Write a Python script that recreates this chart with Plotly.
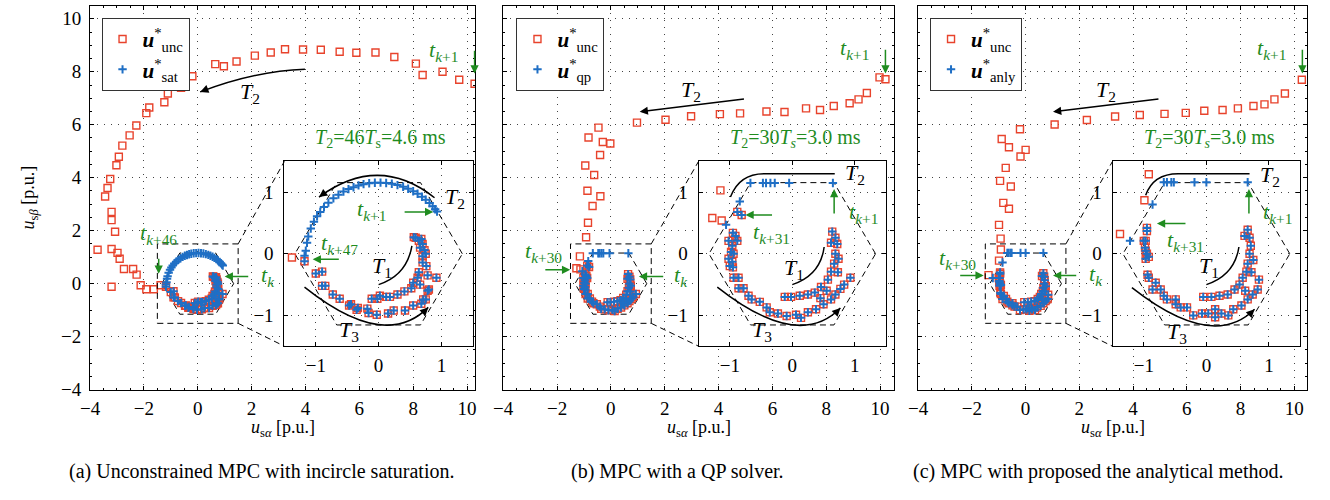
import plotly.graph_objects as go

# ---------------- data ----------------
# panel (a): unconstrained points only (red), saturated points only (blue), both
A_FAR_X = [10.28, 9.71, 9.09, 8.35, 8.10, 7.30, 6.60, 5.89, 5.27, 4.57, 3.91, 3.24, 2.71, 2.12, 1.44, 0.97,
           0.65, -0.20, -0.62, -1.11, -1.24, -1.80, -1.91, -2.28, -2.53, -2.80, -2.93, -3.02, -3.25, -3.35,
           -3.44, -3.20, -3.20, -3.07, -3.72, -3.20, -2.98, -2.90, -2.74, -2.40, -2.27, -2.12, -1.91, -1.63,
           -1.38, -3.20]
A_FAR_Y = [7.55, 7.70, 8.00, 7.88, 8.31, 8.56, 8.73, 8.72, 8.76, 8.83, 8.84, 8.85, 8.73, 8.61, 8.39, 8.21,
           8.29, 7.83, 7.40, 7.18, 6.85, 6.65, 6.44, 5.97, 5.60, 5.21, 4.79, 4.47, 3.95, 3.61,
           3.29, 2.71, 2.40, 1.96, 1.28, 1.31, 1.16, 0.94, 0.55, 0.55, 0.34, -0.06, -0.21, -0.21,
           -0.06, -0.12]
A_SAT_X = [-1.18, -1.16, -1.14, -1.12, -1.08, -1.03, -0.98, -0.93, -0.87, -0.80, -0.72, -0.64, -0.56, -0.48,
           -0.40, -0.32, -0.24, -0.15, -0.06, 0.03, 0.12, 0.21, 0.30, 0.39, 0.47, 0.55, 0.62, 0.69, 0.75,
           0.81, 0.86, 0.90, 0.93]
A_SAT_Y = [-0.03, 0.05, 0.18, 0.28, 0.41, 0.52, 0.61, 0.68, 0.76, 0.83, 0.90, 0.96, 1.01, 1.05,
           1.08, 1.11, 1.13, 1.145, 1.153, 1.155, 1.149, 1.136, 1.115, 1.087, 1.055, 1.016, 0.974, 0.926, 0.878,
           0.823, 0.771, 0.724, 0.685]
A_BOTH_X = [-1.18, -1.00, -0.90, -0.90, -0.85, -0.73, -0.62, -0.47, -0.44, -0.33, -0.35, -0.18, -0.16, -0.03,
            0.15, 0.24, 0.42, 0.55, 0.68, 0.71, 0.75, 0.80, 0.78, 0.92,
            -0.11, -0.02, 0.02, 0.12, 0.18, 0.30, 0.41, 0.52, 0.55, 0.62, 0.64, 0.70, 0.70, 0.73, 0.70,
            0.64, 0.59, 0.56, 0.68, 0.66, 0.76, 0.75, 0.78, 0.66]
A_BOTH_Y = [-0.12, -0.32, -0.29, -0.52, -0.52, -0.66, -0.73, -0.84, -0.82, -0.88, -0.91, -0.89, -0.96, -0.99,
            -0.97, -0.92, -0.92, -0.84, -0.81, -0.74, -0.74, -0.58, -0.60, -0.39,
            -0.73, -0.73, -0.68, -0.70, -0.70, -0.66, -0.61, -0.56, -0.47, -0.39, -0.30, -0.14, -0.04, 0.06, 0.16,
            0.21, 0.26, 0.27, 0.24, 0.10, -0.20, 0.00, -0.35, -0.50]

# panel (b)
B_FAR_X = [10.20, 9.98, 9.51, 9.20, 8.87, 8.28, 7.77, 7.25, 6.45, 5.78, 4.80, 4.05, 2.98, 2.03, 0.97,
           -0.46, -0.83, -0.30, -0.02, -0.40, -0.95, -0.62, -0.87, -0.39, -0.68, -0.85, -0.92, -1.15,
           -1.28, -1.13]
B_FAR_Y = [7.72, 7.79, 7.20, 6.96, 6.81, 6.71, 6.56, 6.62, 6.48, 6.50, 6.43, 6.40, 6.32, 6.19, 6.08,
           5.89, 5.52, 5.35, 5.29, 4.86, 4.46, 4.10, 3.51, 3.30, 2.93, 2.30, 1.75, 1.03,
           0.58, 0.54]
B_QP_X = [-0.67, -0.47, -0.42, -0.35, -0.28, -0.05, 0.65, -0.84, -1.06]
B_QP_Y = [1.15, 1.15, 1.15, 1.15, 1.15, 1.15, 1.15, 0.85, 0.47]
B_BOTH_X = [-0.88, -0.81, -0.95, -0.91, -1.02, -0.88, -0.96, -0.98, -0.94, -1.02, -0.96, -1.00, -0.95, -0.94,
            -0.86, -0.86, -0.78, -0.70, -0.65, -0.52, -0.41, -0.36, -0.23, -0.09, 0.06, 0.14, 0.25, 0.38,
            0.50, 0.62, 0.69, 0.77, 0.93, -0.12, -0.02, 0.12, 0.25, 0.36, 0.46, 0.57, 0.62, 0.67, 0.69,
            0.72, 0.69, 0.64, 0.62, 0.74, 0.73, 0.83, 0.55, 0.45]
B_BOTH_Y = [0.68, 0.63, 0.34, 0.29, 0.21, 0.21, 0.13, 0.03, 0.00, -0.08, -0.13, -0.20, -0.22, -0.39,
            -0.39, -0.56, -0.56, -0.68, -0.74, -0.78, -0.87, -0.95, -0.97, -1.01, -0.99, -1.04, -0.95, -0.90,
            -0.82, -0.74, -0.66, -0.57, -0.39, -0.70, -0.70, -0.68, -0.66, -0.63, -0.54, -0.42, -0.29, -0.16, 0.00,
            0.16, 0.26, 0.36, 0.18, -0.08, -0.30, -0.50, -0.60, -0.72]

# panel (c)
C_FAR_X = [10.28, 9.65, 9.26, 8.89, 8.48, 7.90, 7.33, 6.65, 5.96, 5.17, 4.25, 3.33, 2.28, 1.08, -0.21,
           -0.89, -0.62, 0.00, -0.19, -0.74, -0.95, -0.55, -0.83, -0.62, -0.99, -0.93, -0.92, -0.99, -1.38]
C_FAR_Y = [7.70, 7.18, 6.96, 6.77, 6.71, 6.62, 6.56, 6.53, 6.45, 6.41, 6.37, 6.31, 6.18, 6.01, 5.83,
           5.46, 5.15, 5.05, 4.80, 4.37, 3.88, 3.67, 3.05, 2.83, 2.22, 1.70, 1.29, 0.87, 0.32]
C_ANLY_X = [-0.68, -0.63, -0.56, -0.52, -0.19, 0.00, 0.66, -0.86, -1.22]
C_ANLY_Y = [1.16, 1.16, 1.16, 1.16, 1.16, 1.16, 1.16, 0.80, 0.21]
C_BOTH_X = [-0.95, -0.95, -0.97, -1.00, -0.97, -0.95, -0.92, -0.97, -0.94, -0.92, -0.81, -0.86, -0.73, -0.68,
            -0.63, -0.49, -0.49, -0.41, -0.31, -0.21, -0.07, 0.03, 0.14, 0.14, 0.24, 0.35, 0.43, 0.56, 0.66,
            0.74, 0.82, 0.84, -0.05, 0.08, 0.21, 0.34, 0.45, 0.53, 0.58, 0.64, 0.66, 0.69, 0.71, 0.69, 0.66,
            0.61, 0.75, 0.72, 0.62, -0.98]
C_BOTH_Y = [0.42, 0.37, 0.21, 0.21, 0.05, 0.00, -0.05, -0.08, -0.34, -0.39, -0.47, -0.58, -0.58, -0.68,
            -0.74, -0.74, -0.82, -0.87, -0.87, -1.00, -0.97, -0.97, -1.03, -0.90, -0.97, -1.00, -0.90, -0.84, -0.74,
            -0.66, -0.58, -0.42, -0.70, -0.70, -0.68, -0.66, -0.58, -0.50, -0.39, -0.29, -0.16, 0.00, 0.13, 0.26, 0.39,
            0.29, -0.10, -0.30, -0.60, 0.10]

# voltage hexagon
HEX_X = [1.333, 0.667, -0.667, -1.333, -0.667, 0.667, 1.333]
HEX_Y = [0.0, 1.155, 1.155, 0.0, -1.155, -1.155, 0.0]

X_TICKS = [-4, -2, 0, 2, 4, 6, 8, 10]
Y_TICKS = [-4, -2, 0, 2, 4, 6, 8, 10]
IN_TICKS = [-1, 0, 1]

LEG_A = ["<b><i>u</i></b><sup>*</sup><sub>unc</sub>", "<b><i>u</i></b><sup>*</sup><sub>sat</sub>"]
LEG_B = ["<b><i>u</i></b><sup>*</sup><sub>unc</sub>", "<b><i>u</i></b><sup>*</sup><sub>qp</sub>"]
LEG_C = ["<b><i>u</i></b><sup>*</sup><sub>unc</sub>", "<b><i>u</i></b><sup>*</sup><sub>anly</sub>"]
CAPTIONS = ["(a) Unconstrained MPC with incircle saturation.",
            "(b) MPC with a QP solver.",
            "(c) MPC with proposed the analytical method."]

# ---------------- layout geometry ----------------
W, H = 1330, 500
FONT = "Liberation Serif"
RED = "#e8432c"
BLUE = "#1f6fc5"
GREEN = "#1f8c1f"

MAIN_XPX = [(80.7, 469.0), (497.3, 891.7), (915.7, 1308.3)]
MAIN_XRANGE = [(-4, 10.3), (-4, 10.53), (-4, 10.49)]
MAIN_YPX = (6.0, 398.3)
MAIN_YRANGE = (-4, 10.49)
INSET_XPX = [(276.7, 466.7), (694.3, 883.3), (1111.7, 1301.0)]
INSET_YPX = (165.0, 354.0)
INSET_RANGE = (-1.5, 1.5)
CAP_XPX = [254, 673, 1097]


def pxx(p):
    return p / W


def pxy(p):
    return 1 - p / H


def tick_text(v):
    return [("\u2212" + str(-t)) if t < 0 else str(t) for t in v]


fig = go.Figure()
layout = dict(width=W, height=H, margin=dict(l=0, r=0, t=0, b=0),
              paper_bgcolor="white", plot_bgcolor="white", showlegend=True,
              font=dict(family=FONT, size=17, color="black"))

GRID = dict(showgrid=True, gridcolor="#444", griddash="1px,6px", gridwidth=1, zeroline=False,
            showline=True, linecolor="black", linewidth=1, mirror="ticks", ticks="inside",
            ticklen=4, tickcolor="black", tickfont=dict(family=FONT, size=19, color="black"))

panels = [
    (A_FAR_X, A_FAR_Y, A_SAT_X, A_SAT_Y, A_BOTH_X, A_BOTH_Y, LEG_A),
    (B_FAR_X, B_FAR_Y, B_QP_X, B_QP_Y, B_BOTH_X, B_BOTH_Y, LEG_B),
    (C_FAR_X, C_FAR_Y, C_ANLY_X, C_ANLY_Y, C_BOTH_X, C_BOTH_Y, LEG_C),
]
LEG_XPX = [92.3, 510.7, 927.7]

shapes = []
annotations = []


def main_to_px(i, x, y):
    x0p, x1p = MAIN_XPX[i]
    r0, r1 = MAIN_XRANGE[i]
    px = x0p + (x - r0) / (r1 - r0) * (x1p - x0p)
    py = MAIN_YPX[1] - (y - MAIN_YRANGE[0]) / (MAIN_YRANGE[1] - MAIN_YRANGE[0]) * (MAIN_YPX[1] - MAIN_YPX[0])
    return px, py


def text(x, y, t, xr, yr, color="black", size=22):
    annotations.append(dict(x=x, y=y, xref=xr, yref=yr, text=t, showarrow=False,
                            xanchor="center", yanchor="middle",
                            font=dict(family=FONT, size=size, color=color)))


def paper_text(px, py, t, size, angle=0):
    annotations.append(dict(x=pxx(px), y=pxy(py), xref="paper", yref="paper", text=t,
                            showarrow=False, xanchor="center", yanchor="middle", textangle=angle,
                            font=dict(family=FONT, size=size, color="black")))


def arrow(x0, y0, x1, y1, xr, yr, color="black", width=1.5):
    annotations.append(dict(x=x1, y=y1, ax=x0, ay=y0, xref=xr, yref=yr, axref=xr, ayref=yr,
                            text="", showarrow=True, arrowhead=2, arrowsize=1.1, arrowwidth=width,
                            arrowcolor=color, standoff=0, startstandoff=0))


def curve_arrow(path_pts, xr, yr, color="black"):
    d = ""
    for cmd, pts in path_pts:
        d += cmd + " " + " ".join(f"{a},{b}" for a, b in pts) + " "
    shapes.append(dict(type="path", path=d.strip(), xref=xr, yref=yr,
                       line=dict(color=color, width=1.5)))
    cmd, pts = path_pts[-1]
    ex, ey = pts[-1]
    cx, cy = pts[-2] if len(pts) > 1 else path_pts[-2][1][-1]
    tx, ty = ex + 0.12 * (cx - ex), ey + 0.12 * (cy - ey)
    arrow(tx, ty, ex, ey, xr, yr, color)


for i, (fx, fy, sx, sy, bx, by, leg) in enumerate(panels):
    k = i + 1
    ki = i + 4
    xa = "x" if k == 1 else f"x{k}"
    ya = "y" if k == 1 else f"y{k}"
    xi, yi = f"x{ki}", f"y{ki}"
    legname = "legend" if k == 1 else f"legend{k}"
    unc_x = fx + bx
    unc_y = fy + by
    con_x = sx + bx
    con_y = sy + by

    for (ax_x, ax_y, show) in [(xa, ya, True), (xi, yi, False)]:
        fig.add_trace(go.Scatter(x=HEX_X, y=HEX_Y, mode="lines", xaxis=ax_x, yaxis=ax_y,
                                 line=dict(color="black", width=1, dash="6px,4px"),
                                 showlegend=False, hoverinfo="skip"))
        fig.add_trace(go.Scatter(x=unc_x, y=unc_y, mode="markers", xaxis=ax_x, yaxis=ax_y,
                                 name=leg[0], legend=legname, showlegend=show,
                                 marker=dict(symbol="square-open", size=7, color=RED,
                                             line=dict(width=1.4, color=RED))))
        fig.add_trace(go.Scatter(x=con_x, y=con_y, mode="markers", xaxis=ax_x, yaxis=ax_y,
                                 name=leg[1], legend=legname, showlegend=show,
                                 marker=dict(symbol="cross-thin", size=6, color=BLUE,
                                             line=dict(width=2, color=BLUE))))

    xkey = "xaxis" if k == 1 else f"xaxis{k}"
    ykey = "yaxis" if k == 1 else f"yaxis{k}"
    layout[xkey] = dict(GRID, domain=[pxx(MAIN_XPX[i][0]), pxx(MAIN_XPX[i][1])], range=list(MAIN_XRANGE[i]),
                        anchor=ya, tickvals=X_TICKS, ticktext=tick_text(X_TICKS), ticklabelstandoff=2,
                        minor=dict(ticks="inside", ticklen=2, dtick=0.5, tickcolor="black", showgrid=False))
    layout[ykey] = dict(GRID, domain=[pxy(MAIN_YPX[1]), pxy(MAIN_YPX[0])], range=list(MAIN_YRANGE),
                        anchor=xa, tickvals=Y_TICKS, ticktext=tick_text(Y_TICKS), showticklabels=(k == 1),
                        ticklabelstandoff=4,
                        minor=dict(ticks="inside", ticklen=2, dtick=0.5, tickcolor="black", showgrid=False))
    layout[f"xaxis{ki}"] = dict(GRID, domain=[pxx(INSET_XPX[i][0]), pxx(INSET_XPX[i][1])],
                                range=list(INSET_RANGE), anchor=yi, tickvals=IN_TICKS,
                                ticktext=tick_text(IN_TICKS), ticklabelstandoff=2)
    layout[f"yaxis{ki}"] = dict(GRID, domain=[pxy(INSET_YPX[1]), pxy(INSET_YPX[0])],
                                range=list(INSET_RANGE), anchor=xi, tickvals=IN_TICKS,
                                ticktext=tick_text(IN_TICKS), ticklabelstandoff=6)

    layout[legname] = dict(x=pxx(LEG_XPX[i]), y=pxy(18.3), xanchor="left", yanchor="top",
                           bordercolor="#333", borderwidth=1, bgcolor="white",
                           font=dict(family=FONT, size=21, color="black"), itemwidth=30,
                           tracegroupgap=0)

    shapes.append(dict(type="rect", xref=xa, yref=ya, x0=-1.5, x1=1.5, y0=-1.5, y1=1.5,
                       line=dict(color="black", width=1, dash="6px,4px")))
    c1 = main_to_px(i, 1.5, 1.5)
    c2 = main_to_px(i, 1.5, -1.5)
    shapes.append(dict(type="line", xref="paper", yref="paper", x0=pxx(c1[0]), y0=pxy(c1[1]),
                       x1=pxx(INSET_XPX[i][0]), y1=pxy(INSET_YPX[0]),
                       line=dict(color="black", width=1, dash="6px,4px")))
    shapes.append(dict(type="line", xref="paper", yref="paper", x0=pxx(c2[0]), y0=pxy(c2[1]),
                       x1=pxx(INSET_XPX[i][0]), y1=pxy(INSET_YPX[1]),
                       line=dict(color="black", width=1, dash="6px,4px")))

    paper_text(sum(MAIN_XPX[i]) / 2, 438, "<i>u</i><sub>s<i>\u03b1</i></sub> [p.u.]", 18)
    paper_text(CAP_XPX[i], 482, CAPTIONS[i], 20)

paper_text(20, 202, "<i>u</i><sub>s<i>\u03b2</i></sub> [p.u.]", 18, angle=-90)

TK1 = "<i>t</i><sub><i>k</i>+1</sub>"

# ---- panel (a) annotations ----
text(9.12, 8.8, TK1, "x", "y", GREEN)
arrow(10.28, 8.85, 10.28, 7.94, "x", "y", GREEN)
curve_arrow([("M", [(3.98, 8.1)]), ("Q", [(2.12, 8.03), (0.09, 7.24)])], "x", "y")
text(1.93, 7.2, "<i>T</i><sub>2</sub>", "x", "y")
text(6.78, 5.48, "<i>T</i><sub>2</sub>=46<i>T</i><sub>s</sub>=4.6 ms", "x", "y", GREEN, 20)
text(-1.45, 1.88, "<i>t</i><sub><i>k</i>+46</sub>", "x", "y", GREEN)
arrow(-1.45, 1.0, -1.45, 0.37, "x", "y", GREEN)
text(2.6, 0.27, "<i>t</i><sub><i>k</i></sub>", "x", "y", GREEN)
arrow(1.93, 0.27, 1.0, 0.27, "x", "y", GREEN)
# inset (a)
curve_arrow([("M", [(0.89, 0.91)]), ("Q", [(0.0, 1.63), (-0.95, 0.92)])], "x4", "y4")
text(1.21, 0.9, "<i>T</i><sub>2</sub>", "x4", "y4")
text(-0.11, 0.71, TK1, "x4", "y4", GREEN)
arrow(0.39, 0.68, 0.87, 0.68, "x4", "y4", GREEN)
text(-0.62, 0.16, "<i>t</i><sub><i>k</i>+47</sub>", "x4", "y4", GREEN)
arrow(-0.61, -0.09, -1.05, -0.09, "x4", "y4", GREEN)
curve_arrow([("M", [(0.0, -0.5)]), ("Q", [(0.45, -0.35), (0.53, 0.13)])], "x4", "y4")
text(0.05, -0.22, "<i>T</i><sub>1</sub>", "x4", "y4")
curve_arrow([("M", [(-1.18, -0.54)]), ("Q", [(0.1, -1.58), (0.79, -0.87)])], "x4", "y4")
text(-0.47, -1.26, "<i>T</i><sub>3</sub>", "x4", "y4")

# ---- panel (b) annotations ----
text(9.06, 8.87, TK1, "x2", "y2", GREEN)
arrow(10.2, 8.89, 10.2, 7.94, "x2", "y2", GREEN)
arrow(5.0, 6.98, 1.07, 6.49, "x2", "y2")
text(2.98, 7.27, "<i>T</i><sub>2</sub>", "x2", "y2")
text(6.85, 5.48, "<i>T</i><sub>2</sub>=30<i>T</i><sub><i>s</i></sub>=3.0 ms", "x2", "y2", GREEN, 20)
text(-2.49, 1.21, "<i>t</i><sub><i>k</i>+30</sub>", "x2", "y2", GREEN)
arrow(-2.49, 0.52, -1.51, 0.52, "x2", "y2", GREEN)
text(2.6, 0.27, "<i>t</i><sub><i>k</i></sub>", "x2", "y2", GREEN)
arrow(2.0, 0.27, 1.04, 0.27, "x2", "y2", GREEN)
# inset (b)
curve_arrow([("M", [(0.68, 1.3)]), ("L", [(-0.45, 1.3)]), ("Q", [(-0.85, 1.3), (-0.99, 0.92)])], "x5", "y5")
text(1.0, 1.29, "<i>T</i><sub>2</sub>", "x5", "y5")
arrow(0.67, 0.63, 0.67, 1.05, "x5", "y5", GREEN)
text(1.14, 0.66, TK1, "x5", "y5", GREEN)
arrow(-0.3, 0.63, -0.75, 0.63, "x5", "y5", GREEN)
text(-0.33, 0.34, "<i>t</i><sub><i>k</i>+31</sub>", "x5", "y5", GREEN)
curve_arrow([("M", [(0.0, -0.5)]), ("Q", [(0.45, -0.35), (0.51, 0.11)])], "x5", "y5")
text(0.02, -0.24, "<i>T</i><sub>1</sub>", "x5", "y5")
curve_arrow([("M", [(-1.2, -0.54)]), ("Q", [(0.1, -1.58), (0.77, -0.88)])], "x5", "y5")
text(-0.49, -1.26, "<i>T</i><sub>3</sub>", "x5", "y5")

# ---- panel (c) annotations ----
text(9.14, 8.87, TK1, "x3", "y3", GREEN)
arrow(10.3, 8.89, 10.3, 7.94, "x3", "y3", GREEN)
arrow(5.0, 6.98, 1.02, 6.49, "x3", "y3")
text(2.99, 7.27, "<i>T</i><sub>2</sub>", "x3", "y3")
text(6.86, 5.48, "<i>T</i><sub>2</sub>=30<i>T</i><sub><i>s</i></sub>=3.0 ms", "x3", "y3", GREEN, 20)
text(-2.55, 0.92, "<i>t</i><sub><i>k</i>+30</sub>", "x3", "y3", GREEN)
arrow(-2.49, 0.31, -1.56, 0.31, "x3", "y3", GREEN)
text(2.62, 0.31, "<i>t</i><sub><i>k</i></sub>", "x3", "y3", GREEN)
arrow(1.94, 0.31, 1.02, 0.31, "x3", "y3", GREEN)
# inset (c)
curve_arrow([("M", [(0.69, 1.3)]), ("L", [(-0.45, 1.3)]), ("Q", [(-0.85, 1.3), (-0.97, 0.95)])], "x6", "y6")
text(1.01, 1.27, "<i>T</i><sub>2</sub>", "x6", "y6")
arrow(0.68, 0.63, 0.68, 1.05, "x6", "y6", GREEN)
text(1.14, 0.66, TK1, "x6", "y6", GREEN)
arrow(-0.31, 0.49, -0.79, 0.49, "x6", "y6", GREEN)
text(-0.34, 0.21, "<i>t</i><sub><i>k</i>+31</sub>", "x6", "y6", GREEN)
curve_arrow([("M", [(0.0, -0.5)]), ("Q", [(0.45, -0.35), (0.52, 0.11)])], "x6", "y6")
text(0.04, -0.22, "<i>T</i><sub>1</sub>", "x6", "y6")
curve_arrow([("M", [(-1.19, -0.55)]), ("Q", [(0.1, -1.58), (0.77, -0.9)])], "x6", "y6")
text(-0.47, -1.28, "<i>T</i><sub>3</sub>", "x6", "y6")

layout["shapes"] = shapes
layout["annotations"] = annotations
fig.update_layout(**layout)
fig.write_html("out.html")
